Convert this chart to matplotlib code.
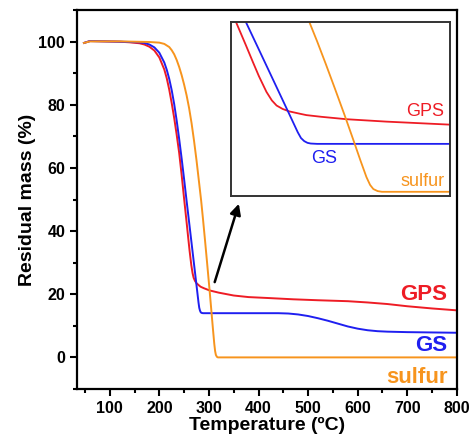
import matplotlib
matplotlib.use('Agg')
import matplotlib.pyplot as plt
from matplotlib.ticker import MultipleLocator

plt.rcParams['font.family'] = ['Liberation Sans', 'DejaVu Sans']

# temperatures (oC) and residual mass (%)
temp_gps = [48, 60, 120, 140, 160, 170, 180, 190, 200, 210, 215, 220, 225, 230, 235, 240, 245, 250,
            255, 258.3, 261, 264.5, 267, 269.2, 272, 275, 280, 283, 290, 301.6, 320, 350, 380, 420,
            470, 520, 580, 620, 660, 700, 750, 800]
mass_gps = [99.6, 100.2, 100, 99.8, 99.5, 99.1, 98.4, 97.2, 95, 91.2, 88.4, 84.8, 80.5, 75.8, 70.5, 64.8, 57.8, 50.2,
            42.8, 37.8, 33.8, 29.2, 26.7, 25.2, 24.2, 23.5, 22.8, 22.4, 21.9, 21.2, 20.5, 19.6, 19.1, 18.8,
            18.4, 18.1, 17.8, 17.4, 16.9, 16.2, 15.5, 14.9]

temp_gs = [48, 60, 120, 160, 170, 180, 190, 200, 210, 215, 220, 225, 230, 235, 240, 245, 250, 254.9,
           260, 265, 270, 275, 279, 280.5, 282, 283.5, 285, 288, 300, 350, 400, 440, 460, 480, 500,
           520, 540, 560, 580, 600, 620, 640, 660, 700, 750, 800]
mass_gs = [99.6, 100.2, 100, 99.8, 99.6, 99.1, 98.2, 96.5, 93.4, 91.1, 88.2, 84.6, 80.2, 75, 69.2, 63, 56.4, 49.7,
           42.9, 36.2, 29.5, 22.8, 17.4, 15.7, 14.8, 14.3, 14.1, 14.0, 14.0, 14.0, 14.0, 14.0, 13.9, 13.6, 13.1,
           12.4, 11.6, 10.7, 9.8, 9.1, 8.6, 8.3, 8.15, 8.0, 7.9, 7.8]

temp_s = [48, 60, 120, 180, 200, 210, 220, 225, 230, 235, 240, 245, 250, 255, 260, 265, 270, 275, 280,
          284.3, 288, 292, 296, 300.8, 304.6, 308, 310.8, 312.5, 314, 316, 318, 330, 400, 500, 600, 700, 800]
mass_s = [99.6, 100.1, 100.1, 99.9, 99.7, 99.3, 98.3, 97.3, 96, 94.2, 92, 89.4, 86.4, 83, 79, 74.2, 68.6, 62.4, 55.6,
          49.7, 43.9, 37.3, 30.5, 22.2, 15.4, 9.2, 4.3, 2.0, 0.8, 0.2, 0, 0, 0, 0, 0, 0, 0]

red = '#ee1c25'
blue = '#1f1ff0'
orange = '#f7941d'

fig = plt.figure(figsize=(4.71, 4.40), dpi=100)
ax = fig.add_axes([0.1635, 0.116, 0.8065, 0.861])

ax.plot(temp_gps, mass_gps, color=red, lw=1.4)
ax.plot(temp_gs, mass_gs, color=blue, lw=1.4)
ax.plot(temp_s, mass_s, color=orange, lw=1.4)

ax.set_xlim(34, 800)
ax.set_ylim(-10, 110)
ax.xaxis.set_major_locator(MultipleLocator(100))
ax.xaxis.set_minor_locator(MultipleLocator(50))
ax.yaxis.set_major_locator(MultipleLocator(20))
ax.yaxis.set_minor_locator(MultipleLocator(10))
ax.tick_params(which='both', direction='out', width=1.5, labelsize=11.5)
ax.tick_params(which='major', length=5)
ax.tick_params(which='minor', length=3)
for lab in ax.get_xticklabels() + ax.get_yticklabels():
    lab.set_fontweight('bold')
for sp in ax.spines.values():
    sp.set_linewidth(1.6)

ax.set_xlabel('Temperature (\u00baC)', fontsize=14, fontweight='bold', labelpad=1)
ax.set_ylabel('Residual mass (%)', fontsize=14, fontweight='bold', labelpad=2)

ax.text(780, 18.1, 'GPS', color=red, fontsize=16, fontweight='bold', ha='right', va='baseline')
ax.text(780, 1.9, 'GS', color=blue, fontsize=16, fontweight='bold', ha='right', va='baseline')
ax.text(782, -8.0, 'sulfur', color=orange, fontsize=16, fontweight='bold', ha='right', va='baseline')

ax.annotate('', xy=(362, 49.5), xytext=(310, 23),
            arrowprops=dict(arrowstyle='-|>', color='black', lw=1.8, mutation_scale=16))

# inset zoom on the main weight loss step
ins = fig.add_axes([0.490, 0.555, 0.465, 0.395])
ins.plot(temp_gps, mass_gps, color=red, lw=1.3)
ins.plot(temp_gs, mass_gs, color=blue, lw=1.3)
ins.plot(temp_s, mass_s, color=orange, lw=1.3)
ins.set_xlim(248, 349.4)
ins.set_ylim(-1.17, 49.6)
ins.set_xticks([])
ins.set_yticks([])
for sp in ins.spines.values():
    sp.set_linewidth(1.4)
    sp.set_color('#333333')
ins.text(346.6, 22.0, 'GPS', color=red, fontsize=13, ha='right', va='baseline')
ins.text(285.3, 8.4, 'GS', color=blue, fontsize=13, ha='left', va='baseline')
ins.text(347, 1.75, 'sulfur', color=orange, fontsize=13, ha='right', va='baseline')

fig.savefig('out.png', dpi=100)
